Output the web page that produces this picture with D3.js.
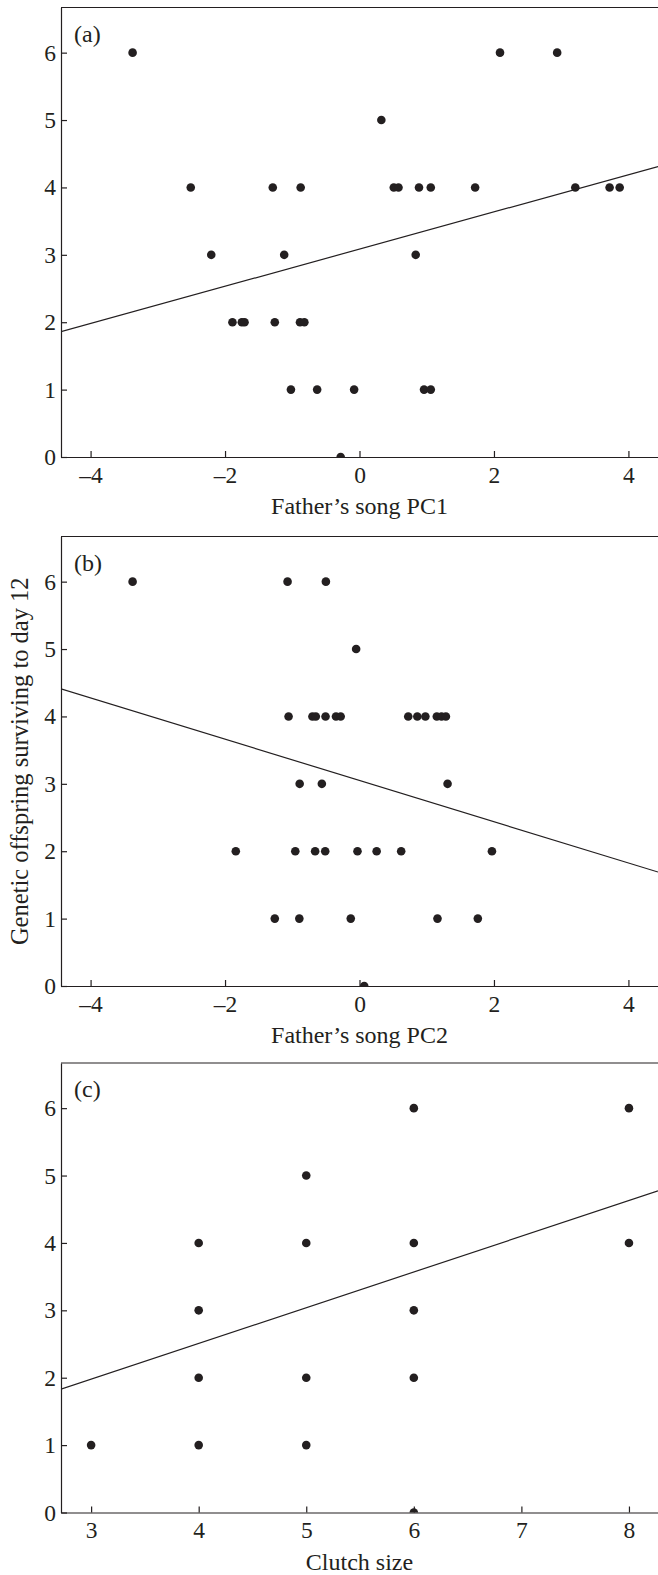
<!DOCTYPE html>
<html>
<head>
<meta charset="utf-8">
<script src="https://cdn.jsdelivr.net/npm/d3@7"></script>
<style>
  body { margin: 0; background: #fff; }
  text { font-family: "Liberation Serif", "Times New Roman", serif; fill: #231f20; }
</style>
</head>
<body>
<div id="chart"></div>
<script>
// values
const yTicks = [0, 1, 2, 3, 4, 5, 6]
const pcTicks = [-4, -2, 0, 2, 4]
const clutchTicks = [3, 4, 5, 6, 7, 8]

const pc1X = [-3.375, 2.09, 2.94, 0.325,
  -2.51, -1.29, -0.875, 0.51, 0.58, 0.885, 1.06, 1.72, 3.21, 3.72, 3.87,
  -2.205, -1.12, 0.836,
  -1.89, -1.75, -1.71, -1.26, -0.885, -0.82,
  -1.02, -0.63, -0.08, 0.96, 1.06,
  -0.28]
const pc1Y = [6, 6, 6, 5,
  4, 4, 4, 4, 4, 4, 4, 4, 4, 4, 4,
  3, 3, 3,
  2, 2, 2, 2, 2, 2,
  1, 1, 1, 1, 1,
  0]
const pc1Fit = [3.085, 0.276] // intercept, slope

const pc2X = [-3.375, -1.07, -0.5, -0.05,
  -1.055, -0.7, -0.65, -0.505, -0.35, -0.28, 0.725, 0.86, 0.98, 1.15, 1.22, 1.285,
  -0.89, -0.56, 1.31,
  -1.84, -0.955, -0.66, -0.51, -0.03, 0.255, 0.62, 1.97,
  -1.26, -0.895, -0.13, 1.16, 1.76,
  0.07]
const pc2Y = [6, 6, 6, 5,
  4, 4, 4, 4, 4, 4, 4, 4, 4, 4, 4, 4,
  3, 3, 3,
  2, 2, 2, 2, 2, 2, 2, 2,
  1, 1, 1, 1, 1,
  0]
const pc2Fit = [3.05, -0.306]

const clutchX = [3, 4, 4, 4, 4, 5, 5, 5, 5, 6, 6, 6, 6, 6, 8, 8]
const clutchY = [1, 4, 3, 2, 1, 5, 4, 2, 1, 6, 4, 3, 2, 0, 6, 4]
const clutchFit = [0.389, 0.53]

const panels = [
  {label: "(a)", xs: pc1X, ys: pc1Y, fit: pc1Fit, xDomain: [-4.44, 4.44], xTicks: pcTicks, title: "Father’s song PC1"},
  {label: "(b)", xs: pc2X, ys: pc2Y, fit: pc2Fit, xDomain: [-4.44, 4.44], xTicks: pcTicks, title: "Father’s song PC2"},
  {label: "(c)", xs: clutchX, ys: clutchY, fit: clutchFit, xDomain: [2.72, 8.27], xTicks: clutchTicks, title: "Clutch size"}
]

const width = 658
const height = 1575
const left = 61
const plotW = width - left
const panelTops = [7.5, 536.5, 1063]
const panelH = 449.5
const ink = "#231f20"
const tickFont = 23.5

const svg = d3.select('#chart')
  .append('svg')
  .attr('width', width)
  .attr('height', height)
  .attr('viewBox', [0, 0, width, height])

const fmt = d => d < 0 ? "\u2013" + Math.abs(d) : String(d)

panels.forEach((p, i) => {
  const g = svg.append('g')
    .attr('transform', `translate(${left},${panelTops[i]})`)

  const x = d3.scaleLinear().domain(p.xDomain).range([0, plotW])
  const y = d3.scaleLinear().domain([0, 6.67]).range([panelH, 0])

  const clipId = 'clip' + i
  g.append('clipPath').attr('id', clipId)
    .append('rect')
    .attr('width', plotW)
    .attr('height', panelH)

  // top frame line
  g.append('line')
    .attr('x1', 0).attr('x2', plotW + 2)
    .attr('y1', 0).attr('y2', 0)
    .attr('stroke', ink)
    .attr('stroke-width', 1.2)

  const yAxis = d3.axisLeft(y)
    .tickValues(yTicks)
    .tickSizeInner(-6)
    .tickSizeOuter(0)
    .tickPadding(5)
    .tickFormat(fmt)

  const xAxis = d3.axisBottom(x)
    .tickValues(p.xTicks)
    .tickSizeInner(-6)
    .tickSizeOuter(0)
    .tickPadding(9)
    .tickFormat(fmt)

  const yAxisG = g.append('g').call(yAxis)
  const xAxisG = g.append('g')
    .attr('transform', `translate(0,${panelH})`)
    .call(xAxis)

  ;[xAxisG, yAxisG].forEach(a => {
    a.attr('font-family', null).attr('font-size', tickFont)
    a.selectAll('.domain, .tick line').attr('stroke', ink).attr('stroke-width', 1.2)
    a.selectAll('text').attr('fill', ink)
  })

  const plot = g.append('g').attr('clip-path', `url(#${clipId})`)

  const [b0, b1] = p.fit
  const fitLine = p.xDomain.map(v => [v, b0 + b1 * v])
  plot.append('path')
    .datum(fitLine)
    .attr('fill', 'none')
    .attr('stroke', ink)
    .attr('stroke-width', 1.2)
    .attr('d', d3.line().x(d => x(d[0])).y(d => y(d[1])))

  plot.selectAll('circle')
    .data(p.xs.map((v, j) => [v, p.ys[j]]))
    .join('circle')
    .attr('cx', d => x(d[0]))
    .attr('cy', d => y(d[1]))
    .attr('r', 4.3)
    .attr('fill', ink)

  g.append('text')
    .attr('x', 13)
    .attr('y', 34)
    .attr('font-size', 24)
    .text(p.label)

  g.append('text')
    .attr('x', plotW / 2)
    .attr('y', panelH + 57)
    .attr('text-anchor', 'middle')
    .attr('font-size', 24)
    .text(p.title)
})

svg.append('text')
  .attr('transform', `translate(28,${panelTops[1] + panelH / 2}) rotate(-90)`)
  .attr('text-anchor', 'middle')
  .attr('font-size', 24.5)
  .text("Genetic offspring surviving to day 12")
</script>
</body>
</html>
